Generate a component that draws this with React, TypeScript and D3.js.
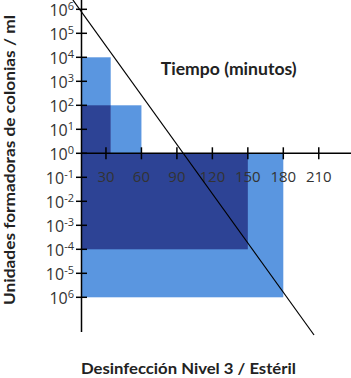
import React from 'react';
import * as d3 from 'd3';

// time ticks on the x axis (minutes)
const timeTicks = [30, 60, 90, 120, 150, 180, 210];

// log10 exponents on the y axis, and the superscripts as printed
const logTicks = [6, 5, 4, 3, 2, 1, 0, -1, -2, -3, -4, -5, -6];
const logTickLabels = ['6', '5', '4', '3', '2', '1', '0', '-1', '-2', '-3', '-4', '-5', '6'];

// blocks: start / end minute, top / bottom exponent
const lightBlocks = [
  { t0: 0, t1: 34, top: 4, bottom: 0 },
  { t0: 34, t1: 60, top: 2, bottom: 0 },
  { t0: 0, t1: 180, top: 0, bottom: -6 },
];
const darkBlocks = [
  { t0: 0, t1: 34, top: 2, bottom: 0 },
  { t0: 0, t1: 150, top: 0, bottom: -4 },
];

// survivor curve (minute, exponent)
const killLine = [
  { t: 2, e: 6.39 },
  { t: 206, e: -7.57 },
];

const LIGHT = '#5a96e0';
const DARK = '#2d4395';

export default function App() {
  const width = 351;
  const height = 378;
  const axisX = 81.5;

  const x = d3.scaleLinear().domain([0, 180]).range([70.5, 283.3]);
  const y = d3.scaleLog().domain([1e-6, 1e6]).range([297.3, 9.3]);
  const ye = (e: number) => y(Math.pow(10, e));

  const line = d3.line<{ t: number; e: number }>()
    .x(d => x(d.t))
    .y(d => ye(d.e));

  const block = (b: { t0: number; t1: number; top: number; bottom: number }, fill: string, i: number) => (
    <rect
      key={fill + i}
      x={x(b.t0)}
      y={ye(b.top)}
      width={x(b.t1) - x(b.t0)}
      height={ye(b.bottom) - ye(b.top)}
      fill={fill}
    />
  );

  return (
    <svg width={width} height={height} style={{ position: 'absolute', left: 0, top: 0 }}>
      <defs>
        <clipPath id="plot">
          <rect x={axisX} y={0} width={width - axisX} height={height} />
        </clipPath>
      </defs>

      <g clipPath="url(#plot)">
        {lightBlocks.map((b, i) => block(b, LIGHT, i))}
        {darkBlocks.map((b, i) => block(b, DARK, i))}
      </g>

      {/* y axis */}
      <line x1={axisX} x2={axisX} y1={0} y2={332} stroke="#000" strokeWidth={1.5} />
      {logTicks.map((e, i) => (
        <g key={e + '_' + i}>
          <line x1={axisX - 5.5} x2={axisX + 5.5} y1={ye(e)} y2={ye(e)} stroke="#000" strokeWidth={1.5} />
          <text
            x={74}
            y={ye(e) + 0.5}
            textAnchor="end"
            dominantBaseline="central"
            fontFamily="'Open Sans', sans-serif"
            fontSize={16}
            fill="#333"
          >
            10<tspan dy={-4.5} fontSize={11}>{logTickLabels[i]}</tspan>
          </text>
        </g>
      ))}

      {/* x axis at 10^0 */}
      <line x1={axisX} x2={width} y1={ye(0)} y2={ye(0)} stroke="#000" strokeWidth={1.5} />
      {timeTicks.map(t => (
        <g key={t}>
          <line x1={x(t)} x2={x(t)} y1={ye(0) - 6} y2={ye(0) + 6} stroke="#000" strokeWidth={1.5} />
          <text
            x={x(t)}
            y={182}
            textAnchor="middle"
            fontFamily="'Open Sans', sans-serif"
            fontSize={15}
            fill="#333"
          >
            {t}
          </text>
        </g>
      ))}

      <path d={line(killLine) || ''} fill="none" stroke="#000" strokeWidth={1.2} />

      <text
        x={228.7}
        y={75}
        textAnchor="middle"
        fontFamily="Lato, sans-serif"
        fontWeight="bold"
        fontSize={16.5}
        fill="#222"
        textLength={136}
        lengthAdjust="spacingAndGlyphs"
      >
        Tiempo (minutos)
      </text>

      <text
        transform="translate(15,160) rotate(-90)"
        textAnchor="middle"
        fontFamily="Lato, sans-serif"
        fontWeight="bold"
        fontSize={16}
        fill="#222"
        textLength={290}
        lengthAdjust="spacingAndGlyphs"
      >
        Unidades formadoras de colonias / ml
      </text>

      <text
        x={188.4}
        y={374}
        textAnchor="middle"
        fontFamily="Lato, sans-serif"
        fontWeight="bold"
        fontSize={15}
        fill="#222"
        textLength={215}
        lengthAdjust="spacingAndGlyphs"
      >
        Desinfección Nivel 3 / Estéril
      </text>
    </svg>
  );
}
